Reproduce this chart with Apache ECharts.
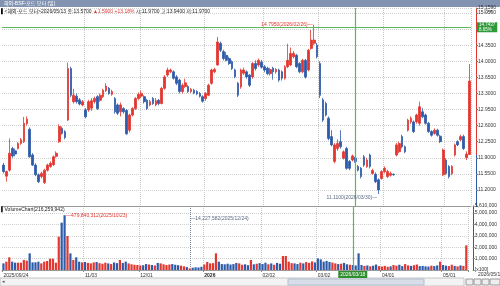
<!DOCTYPE html>
<html>
<head>
<meta charset="utf-8">
<script src="https://cdn.jsdelivr.net/npm/echarts@6/dist/echarts.min.js"></script>
<style>
  html, body { margin: 0; padding: 0; background: #fff; }
  #chart { width: 500px; height: 286px; }
</style>
</head>
<body>
<div id="chart"></div>
<script>
var FONT = "'Liberation Sans', 'Noto Sans CJK KR', sans-serif";
var UP = '#e2362e', DOWN = '#2d5ba9', CROSS = '#5cb85c';

// NYSE closed days inside the range
var holidays = ['2025/11/27', '2025/12/25', '2026/01/01', '2026/01/19', '2026/02/16', '2026/04/03'];

// axis labels under the volume panel
var labelDays = ['2025/09/24', '2025/11/03', '2025/12/01', '2026/01/02', '2026/02/02', '2026/03/02', '2026/04/01', '2026/05/01'];
var labelText = ['2025/09/24', '11/03', '12/01', '2026', '02/02', '03/02', '04/01', '05/01'];

// daily candles: [open, close, low, high]
var candles = [
  [11.74,11.60,11.56,11.79],[11.50,11.60,11.38,11.62],[11.63,12.00,11.60,12.32],[12.10,11.94,11.90,12.14],
  [12.05,11.98,11.93,12.10],[12.10,12.21,12.08,12.24],[12.21,12.29,12.18,12.33],[12.25,12.65,12.22,12.79],
  [12.64,12.74,12.60,12.80],[12.52,11.92,11.90,12.56],[11.96,11.74,11.72,12.00],[11.74,11.53,11.50,11.78],
  [11.53,11.38,11.35,11.56],[11.49,11.56,11.45,11.60],[11.36,11.63,11.33,11.66],[11.63,11.74,11.60,11.77],
  [11.71,11.78,11.68,11.82],[11.75,11.92,11.72,11.95],[11.93,12.00,11.90,12.04],[12.25,12.58,12.22,12.63],
  [12.54,12.43,12.40,12.58],[12.47,12.34,12.30,12.50],[12.72,13.84,12.70,13.97],[13.84,13.26,13.22,13.88],
  [13.12,13.26,13.08,13.40],[13.24,13.12,13.08,13.30],[13.16,13.07,13.04,13.20],[13.05,13.12,13.02,13.16],
  [12.94,12.79,12.76,12.98],[12.94,13.12,12.90,13.16],[12.98,13.14,12.92,13.20],[13.12,13.19,13.08,13.23],
  [13.23,12.97,12.94,13.26],[13.15,13.26,13.12,13.30],[13.23,13.37,13.20,13.40],[13.36,13.46,13.33,13.52],
  [13.41,13.30,13.27,13.44],[13.28,13.34,13.25,13.38],[13.19,12.90,12.86,13.22],[13.05,12.87,12.83,13.08],
  [12.90,13.05,12.80,13.10],[12.97,12.90,12.86,13.00],[12.93,12.42,12.40,12.96],[12.50,12.83,12.45,12.86],
  [12.83,12.97,12.80,13.00],[12.97,13.19,12.94,13.22],[13.19,13.28,13.15,13.32],[13.24,13.30,13.20,13.36],
  [13.23,13.12,13.08,13.26],[13.15,12.97,12.94,13.18],[13.05,13.12,13.02,13.16],[13.19,13.08,13.05,13.22],
  [13.05,13.14,13.02,13.20],[13.15,13.08,13.04,13.18],[13.08,13.41,13.06,13.44],[13.41,13.66,13.38,13.70],
  [13.70,13.81,13.66,13.86],[13.77,13.81,13.74,13.84],[13.77,13.63,13.60,13.80],[13.66,13.52,13.48,13.70],
  [13.59,13.34,13.30,13.62],[13.34,13.48,13.30,13.52],[13.45,13.53,13.42,13.62],[13.45,13.34,13.31,13.48],
  [13.34,13.39,13.31,13.42],[13.37,13.31,13.28,13.40],[13.34,13.29,13.26,13.37],[13.30,13.24,13.21,13.33],
  [13.23,13.13,13.10,13.26],[13.19,13.30,13.14,13.33],[13.26,13.48,13.24,13.51],[13.52,13.81,13.49,13.84],
  [13.77,13.82,13.74,13.86],[13.92,14.42,13.90,14.53],[14.39,14.24,14.20,14.43],[14.21,14.06,14.02,14.25],
  [14.13,14.02,14.00,14.20],[14.06,13.95,13.92,14.10],[13.99,13.84,13.81,14.02],[13.81,13.66,13.63,13.84],
  [13.52,13.26,13.22,13.55],[13.44,13.81,13.40,13.84],[13.74,13.81,13.70,13.86],[13.77,13.66,13.62,13.80],
  [13.70,13.48,13.44,13.72],[13.66,13.95,13.62,13.98],[13.95,13.84,13.80,14.02],[13.92,14.02,13.88,14.06],
  [13.98,13.87,13.84,14.03],[13.88,13.81,13.76,13.92],[13.85,13.73,13.70,13.88],[13.73,13.82,13.69,13.86],
  [13.85,13.77,13.60,13.88],[13.77,13.82,13.73,13.85],[13.81,13.59,13.55,13.84],[13.77,13.63,13.58,13.80],
  [13.63,13.88,13.60,13.91],[13.88,14.02,13.85,14.38],[13.92,14.17,13.90,14.30],[14.10,14.17,14.06,14.22],
  [14.13,13.88,13.85,14.16],[13.95,13.77,13.74,13.98],[13.77,14.02,13.74,14.05],[14.02,13.66,13.62,14.05],
  [13.81,14.24,13.78,14.27],[14.28,14.46,14.25,14.68],[14.39,14.46,14.35,14.795],[14.35,14.10,14.06,14.40],
  [13.95,13.26,13.20,14.00],[13.16,12.72,12.68,13.20],[13.08,12.83,12.80,13.12],[12.76,12.32,12.28,12.80],
  [12.36,12.18,12.15,12.50],[11.82,12.18,11.78,12.22],[12.10,12.21,12.05,12.30],[12.25,12.14,12.10,12.50],
  [11.89,12.03,11.86,12.06],[12.10,11.67,11.64,12.14],[11.82,11.67,11.63,11.85],[11.85,11.94,11.82,11.97],
  [11.89,11.82,11.79,11.92],[11.71,11.63,11.60,11.74],[11.67,11.49,11.45,11.70],[11.92,11.74,11.70,11.96],
  [11.71,11.85,11.68,11.90],[11.96,11.71,11.67,11.99],[11.56,11.62,11.53,11.66],[11.54,11.38,11.35,11.58],
  [11.42,11.20,11.11,11.45],[11.45,11.60,11.42,11.63],[11.60,11.67,11.56,11.71],[11.49,11.60,11.46,11.64],
  [11.52,11.56,11.49,11.60],[11.54,11.53,11.51,11.56],[11.96,12.18,11.93,12.22],[12.03,12.21,12.00,12.25],
  [12.36,12.14,12.10,12.40],[12.14,12.03,12.00,12.17],[12.50,12.72,12.47,12.75],[12.68,12.76,12.64,12.80],
  [12.68,12.47,12.44,12.71],[12.68,12.83,12.64,12.86],[12.65,13.01,12.60,13.12],[12.90,12.79,12.76,12.98],
  [12.83,12.65,12.62,12.86],[12.65,12.47,12.44,12.68],[12.47,12.39,12.36,12.50],[12.43,12.50,12.40,12.54],
  [12.50,12.39,12.36,12.53],[12.37,12.25,12.22,12.40],[11.53,12.07,11.50,12.10],[11.85,11.56,11.53,11.89],
  [11.71,11.49,11.45,11.74],[11.56,11.71,11.52,11.74],[11.96,12.18,11.93,12.21],[12.25,12.18,12.15,12.28],
  [12.29,12.36,12.26,12.40],[12.36,12.10,12.07,12.40],[11.90,11.98,11.85,12.04],[11.97,13.57,11.97,13.94]
];

// volume in millions of shares
var volumeM = [
  58,73,111,73,64,64,64,88,82,146,67,67,73,58,73,79,99,99,64,292,
  415,479.840312,298,146,88,111,73,67,70,62,58,66,70,60,55,64,58,52,66,60,
  88,62,74,58,50,46,44,40,42,52,48,44,40,62,58,50,44,48,52,46,
  42,38,32,26,14.227582,20,24,22,28,48,70,58,60,146,73,52,50,55,48,52,
  62,58,46,50,42,88,50,55,60,52,64,50,58,46,62,55,123,123,73,60,
  58,52,64,58,70,62,75,66,102,93,73,80,70,65,58,52,55,62,50,46,
  44,40,146,44,36,40,32,38,48,34,30,36,28,32,44,38,46,34,52,40,
  36,42,48,34,36,32,30,38,34,40,73,44,38,34,46,36,32,40,36,216.259942
];

var prevClose = 11.98;
var crossDay = '2026/03/18';
var crossPrice = 14.7437;
var peakDay = '2026/02/26', peakPrice = 14.795;
var lowDay = '2026/03/30', lowPrice = 11.11;
var volPeakDay = '2025/10/23';
var volMinDay = '2025/12/24';

function pad(n) { return n < 10 ? '0' + n : '' + n; }

var dates = [];
(function () {
  var d = new Date(Date.UTC(2025, 8, 24));
  var end = Date.UTC(2026, 4, 13);
  while (d.getTime() <= end) {
    var s = d.getUTCFullYear() + '/' + pad(d.getUTCMonth() + 1) + '/' + pad(d.getUTCDate());
    var wd = d.getUTCDay();
    if (wd !== 0 && wd !== 6 && holidays.indexOf(s) < 0) dates.push(s);
    d.setUTCDate(d.getUTCDate() + 1);
  }
})();

var labelIdx = labelDays.map(function (d) { return dates.indexOf(d); });
var showLabel = function (idx) { return labelIdx.indexOf(idx) >= 0; };
var showGrid = function (idx) { return idx > 0 && labelIdx.indexOf(idx) >= 0; };

var volumes = volumeM.map(function (v, i) {
  var c = candles[i];
  return { value: v * 1e6, itemStyle: { color: c[1] >= c[0] ? UP : DOWN } };
});

var fmtNum = function (v) { return Math.round(v).toLocaleString('en-US'); };
var last = candles[candles.length - 1];
var lastVol = volumeM[volumeM.length - 1] * 1e6;
var volPeak = volumeM[dates.indexOf(volPeakDay)] * 1e6;
var volMin = volumeM[dates.indexOf(volMinDay)] * 1e6;

var pMin = 10.85, pMax = 15.159;
var f = (pMax - prevClose) / (pMax - pMin);
var vMax = 561e6;
var crossLine = { color: CROSS, width: 1.2, type: 'solid', opacity: 1 };

var chart = echarts.init(document.getElementById('chart'), null, { renderer: 'canvas' });

var option = {
  animation: false,
  backgroundColor: '#fff',
  textStyle: { fontFamily: FONT },
  title: [
    { text: '해외-BSF-포드 모터 (일)', left: 4, top: 1, padding: 0,
      textStyle: { fontSize: 5, color: '#fff', fontWeight: 'normal', fontFamily: FONT } },
    { text: '{k|▌}{t|<해외-포드 모터>2026/05/13 종:13.5700 }{r|▲1.5900 +13.18%}{t| 시:11.9700 고:13.9400 저:11.9700}',
      left: 1, top: 9, padding: 0,
      textStyle: { fontSize: 5, fontWeight: 'normal', rich: {
        k: { color: '#000', fontSize: 5, fontFamily: FONT },
        t: { color: '#222', fontSize: 5, fontFamily: FONT },
        r: { color: UP, fontSize: 5, fontFamily: FONT }
      } } },
    { text: '▌VolumeChart(' + fmtNum(lastVol) + ')', left: 1, top: 207, padding: 0,
      textStyle: { fontSize: 5, color: '#222', fontWeight: 'normal', fontFamily: FONT } }
  ],
  graphic: [
    { type: 'rect', z: -1, shape: { x: 0, y: 0, width: 500, height: 7 }, style: { fill: '#8394b2' } },
    { type: 'text', left: 484, top: 8, style: { text: '□ ×', fontSize: 6, fill: '#333' } },
    { type: 'text', left: 478, top: 272, style: { text: dates[dates.length - 1], fontSize: 5, fill: '#333', fontFamily: FONT } },
    { type: 'rect', shape: { x: 0, y: 278, width: 464, height: 8 }, style: { fill: '#f3f3f3', stroke: '#c4c4c4', lineWidth: 1 } },
    { type: 'rect', shape: { x: 288, y: 279, width: 136, height: 6 }, style: { fill: '#d7dee9', stroke: '#b4bfcf', lineWidth: 1 } },
    { type: 'text', left: 2, top: 279, style: { text: '◂', fontSize: 5, fill: '#555' } },
    { type: 'rect', shape: { x: 466, y: 279, width: 7, height: 6 }, style: { fill: '#eee', stroke: '#999', lineWidth: 1 } },
    { type: 'rect', shape: { x: 474, y: 279, width: 7, height: 6 }, style: { fill: '#eee', stroke: '#999', lineWidth: 1 } },
    { type: 'rect', shape: { x: 482, y: 279, width: 7, height: 6 }, style: { fill: '#eee', stroke: '#999', lineWidth: 1 } },
    { type: 'rect', shape: { x: 490, y: 279, width: 10, height: 6 }, style: { fill: '#eee', stroke: '#999', lineWidth: 1 } }
  ],
  grid: [
    { left: 2, right: 29, top: 8, height: 198 },
    { left: 2, right: 29, top: 206, height: 64 }
  ],
  xAxis: [
    { type: 'category', gridIndex: 0, data: dates, boundaryGap: true,
      axisLine: { lineStyle: { color: '#999', width: 1 } },
      axisTick: { show: false }, axisLabel: { show: false },
      splitLine: { show: true, interval: showGrid, lineStyle: { color: '#c8c8c8', type: 'dotted' } } },
    { type: 'category', gridIndex: 1, data: dates, boundaryGap: true,
      axisLine: { lineStyle: { color: '#999', width: 1 } },
      axisTick: { show: true, interval: showLabel, length: 2, lineStyle: { color: '#888' } },
      axisLabel: { show: true, interval: showLabel, align: 'left', margin: 3, fontSize: 5, color: '#333', fontFamily: FONT,
        formatter: function (v) {
          var k = labelDays.indexOf(v);
          return k === 3 ? '{b|' + labelText[k] + '}' : labelText[k];
        },
        rich: { b: { fontSize: 5, fontWeight: 'bold', color: '#222', fontFamily: FONT } } },
      splitLine: { show: true, interval: showGrid, lineStyle: { color: '#c8c8c8', type: 'dotted' } } }
  ],
  yAxis: [
    { type: 'value', gridIndex: 0, position: 'right', offset: 5, min: pMin, max: pMax, interval: 0.35,
      axisLine: { show: true, lineStyle: { width: 1, color: new echarts.graphic.LinearGradient(0, 0, 0, 1, [
        { offset: 0, color: UP }, { offset: f, color: UP }, { offset: f, color: DOWN }, { offset: 1, color: DOWN }]) } },
      axisTick: { show: true, length: 2, lineStyle: { color: '#777' } },
      axisLabel: { fontSize: 5, color: '#333', margin: 2, fontFamily: FONT,
        formatter: function (v) { return v < 11 ? '' : v.toFixed(4); } },
      splitLine: { show: true, lineStyle: { color: '#cfcfcf', type: 'dotted' } } },
    { type: 'value', gridIndex: 1, position: 'right', offset: 5, min: 0, max: vMax, interval: 100e6,
      axisLine: { show: true, lineStyle: { color: DOWN, width: 1 } },
      axisTick: { show: true, length: 2, lineStyle: { color: '#777' } },
      axisLabel: { fontSize: 5, color: '#333', margin: 2, fontFamily: FONT,
        formatter: function (v) { return v === 0 ? '[x100]' : fmtNum(v / 100); } },
      splitLine: { show: true, lineStyle: { color: '#cfcfcf', type: 'dotted' } } }
  ],
  series: [
    {
      type: 'candlestick', xAxisIndex: 0, yAxisIndex: 0, data: candles, barWidth: 2.2,
      itemStyle: { color: UP, color0: DOWN, borderColor: UP, borderColor0: DOWN, borderWidth: 0.8 },
      markLine: {
        silent: true, symbol: ['none', 'none'], animation: false,
        lineStyle: crossLine, itemStyle: { color: CROSS },
        data: [
          { xAxis: crossDay, lineStyle: crossLine, itemStyle: { color: CROSS }, label: { show: false } },
          { yAxis: crossPrice, lineStyle: crossLine, itemStyle: { color: CROSS },
            label: { show: true, position: 'end', distance: 6, formatter: crossPrice.toFixed(4) + '\n' + ((crossPrice / last[1] - 1) * 100).toFixed(2) + '%',
              backgroundColor: '#2f9a3a', color: '#fff', fontSize: 4.5, lineHeight: 4.5, padding: [0.5, 2], fontFamily: FONT } },
          { yAxis: last[1], lineStyle: { opacity: 0 },
            label: { show: true, position: 'end', distance: 6, formatter: last[1].toFixed(4) + '\n+13.18%',
              backgroundColor: UP, color: '#fff', fontSize: 4.5, lineHeight: 4.5, padding: [0.5, 2], fontFamily: FONT } }
        ]
      },
      markPoint: {
        silent: true, symbol: 'circle', symbolSize: 1, itemStyle: { color: 'rgba(0,0,0,0)' },
        data: [
          { coord: [peakDay, peakPrice], label: { show: true, position: 'left', distance: 1,
            formatter: peakPrice.toFixed(4) + '(' + peakDay + ')—', color: UP, fontSize: 5, fontFamily: FONT } },
          { coord: [lowDay, lowPrice], label: { show: true, position: 'left', distance: 1, offset: [0, 4],
            formatter: lowPrice.toFixed(4) + '(' + lowDay + ')—', color: '#5a6882', fontSize: 5, fontFamily: FONT } }
        ]
      }
    },
    {
      type: 'bar', xAxisIndex: 1, yAxisIndex: 1, data: volumes, barWidth: 2.2,
      markLine: {
        silent: true, symbol: ['none', 'none'], animation: false,
        lineStyle: crossLine, itemStyle: { color: CROSS },
        data: [
          { xAxis: crossDay, lineStyle: crossLine, itemStyle: { color: CROSS },
            label: { show: true, position: 'start', distance: 1, formatter: crossDay,
              backgroundColor: '#2f8f2f', color: '#fff', fontSize: 5, padding: [1, 2], fontFamily: FONT } },
          { yAxis: lastVol, lineStyle: { opacity: 0 },
            label: { show: true, position: 'end', distance: 6, formatter: fmtNum(lastVol / 100),
              backgroundColor: '#111', color: '#fff', fontSize: 5, padding: [0.5, 1.5], fontFamily: FONT } },
          [ { coord: [volMinDay, vMax], lineStyle: { color: '#7b879c', width: 1, type: 'dotted' }, label: { show: false } },
            { coord: [volMinDay, volMin] } ]
        ]
      },
      markPoint: {
        silent: true, symbol: 'circle', symbolSize: 1, itemStyle: { color: 'rgba(0,0,0,0)' },
        data: [
          { coord: [volPeakDay, volPeak], label: { show: true, position: 'right', distance: 1,
            formatter: '—' + fmtNum(volPeak) + '(' + volPeakDay + ')', color: UP, fontSize: 5, fontFamily: FONT } },
          { coord: [volMinDay, 447e6], label: { show: true, position: 'right', distance: 0,
            formatter: '—' + fmtNum(volMin) + '(' + volMinDay + ')', color: '#5a6882', fontSize: 5, fontFamily: FONT } }
        ]
      }
    }
  ]
};

chart.setOption(option);
</script>
</body>
</html>
